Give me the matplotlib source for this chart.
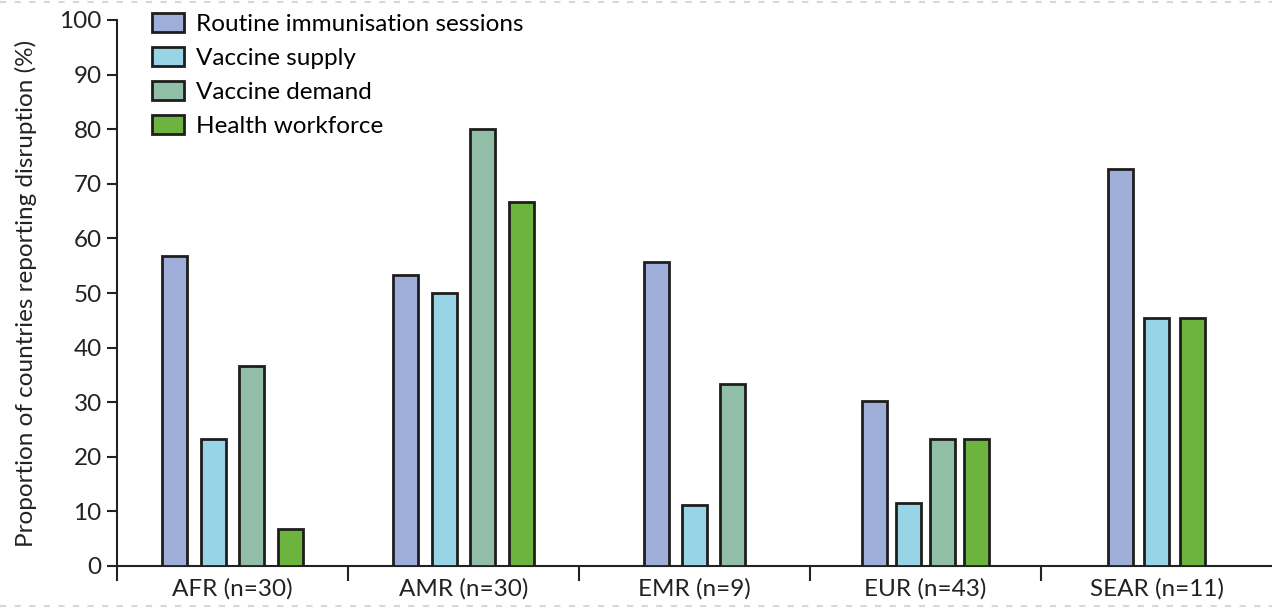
import numpy as np
import matplotlib.pyplot as plt
from matplotlib.lines import Line2D

regions = ['AFR (n=30)', 'AMR (n=30)', 'EMR (n=9)', 'EUR (n=43)', 'SEAR (n=11)']
series = ['Routine immunisation sessions', 'Vaccine supply', 'Vaccine demand', 'Health workforce']
colors = ['#9eaed8', '#97d4e6', '#90bea6', '#6db43e']

# None = not reported for that region
routine = [56.7, 53.3, 55.6, 30.2, 72.7]
supply = [23.3, 50.0, 11.1, 11.6, 45.5]
demand = [36.7, 80.0, 33.3, 23.3, None]
workforce = [6.7, 66.7, None, 23.3, 45.5]
values = [routine, supply, demand, workforce]

# bar spacing per group, in category units
spacing = [0.167, 0.167, 0.165, 0.147, 0.154]
bar_w = 0.108

plt.rcParams['font.family'] = ['Lato', 'DejaVu Sans']
fig = plt.figure(figsize=(12.72, 6.10), dpi=100)
ax = fig.add_axes([117 / 1272, 44 / 610, 1 - 117 / 1272, 546 / 610])

for g in range(len(regions)):
    present = [s for s in range(4) if values[s][g] is not None]
    n = len(present)
    for k, s in enumerate(present):
        x = g + 0.5 + (k - (n - 1) / 2) * spacing[g]
        ax.bar(x, values[s][g], width=bar_w, color=colors[s],
               edgecolor='#1e1e1e', linewidth=2.0, zorder=3)

fs = 17.5
ax.set_xlim(0, 5)
ax.set_ylim(0, 100)
ax.set_yticks(np.arange(0, 101, 10))
ax.tick_params(axis='y', direction='out', length=7, width=1.5, labelsize=fs,
               colors='#222222', pad=4)
ax.set_xticks([0, 1, 2, 3, 4])
ax.set_xticklabels([])
ax.set_xticks(np.arange(5) + 0.5, minor=True)
ax.set_xticklabels(regions, minor=True)
ax.tick_params(axis='x', which='major', direction='out', length=11, width=1.5, colors='#222222')
ax.tick_params(axis='x', which='minor', length=0, labelsize=fs, pad=9, colors='#222222')
for sp in ['top', 'right']:
    ax.spines[sp].set_visible(False)
for sp in ['left', 'bottom']:
    ax.spines[sp].set_linewidth(1.5)
    ax.spines[sp].set_color('#222222')

ax.set_ylabel('Proportion of countries reporting disruption (%)', fontsize=fs,
              color='#222222', labelpad=16)

handles = [plt.Rectangle((0, 0), 1, 1, facecolor=c, edgecolor='#1e1e1e', linewidth=2.0)
           for c in colors]
leg = ax.legend(handles, series, loc='upper left', bbox_to_anchor=(0.022, 1.03),
                frameon=False, fontsize=fs, handlelength=1.3, handleheight=0.8,
                handletextpad=0.5, labelspacing=0.5, borderaxespad=0)

# faint dashed page borders
for yy in [0.996, 0.006]:
    fig.add_artist(Line2D([0, 1], [yy, yy], transform=fig.transFigure,
                          color='#d8d8d8', linewidth=1.5, linestyle=(0, (3, 4))))

fig.savefig('out.png', dpi=100)
